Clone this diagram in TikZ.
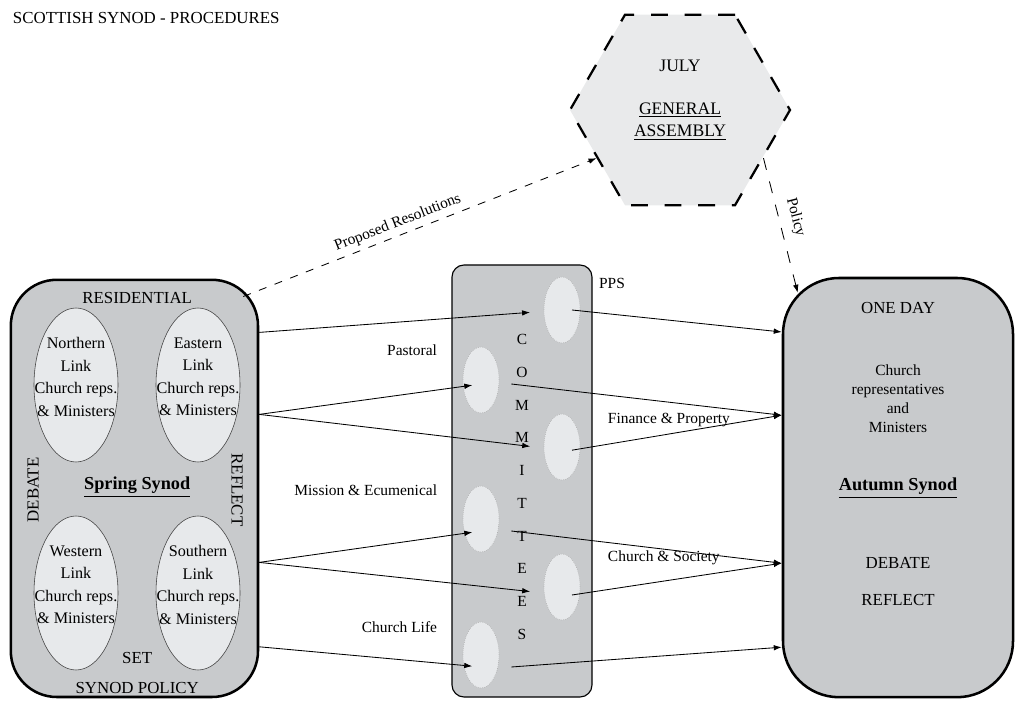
\documentclass[tikz,border=0pt]{standalone}
\usepackage{fontspec}
\setmainfont{Liberation Serif}
\usetikzlibrary{shapes.geometric,arrows.meta}
\definecolor{synodgray}{RGB}{200,202,204}
\definecolor{linkfill}{RGB}{231,233,235}
\definecolor{gafill}{RGB}{233,234,235}
\begin{document}
\begin{tikzpicture}[font=\fontsize{11}{13.5}\selectfont, >={Latex[length=2mm,width=1.4mm]},
    synod/.style={draw, line width=1.8pt, fill=synodgray},
    link/.style={ellipse, draw=black!75, fill=linkfill, inner sep=0pt, minimum width=2.1cm, minimum height=3.85cm},
    linktext/.style={align=center, font=\fontsize{11.5}{16}\selectfont},
    comm/.style={ellipse, draw=black!35, densely dotted, fill=linkfill, minimum width=0.9cm, minimum height=1.65cm},
    caps/.style={font=\fontsize{12}{14}\selectfont},
    synodname/.style={font=\bfseries\fontsize{13}{15}\selectfont},
    flow/.style={->, line width=0.6pt},
    proposal/.style={->, line width=0.6pt, dash pattern=on 0.2cm off 0.22cm}]
    \useasboundingbox (0,0) rectangle (25.5,17.5);
    \node [anchor=west, font=\fontsize{12}{14}\selectfont] (title) at (0.2,17.05) {SCOTTISH SYNOD - PROCEDURES};

    \node [synod, rounded corners=1.15cm, minimum width=6.18cm, minimum height=10.43cm] (spring) at (3.36,5.29) {};
    \node [caps] (resid) at (3.43,10.05) {RESIDENTIAL};
    \node [link] (north) at (1.9,7.875) {};
    \node [link] (east) at (4.95,7.875) {};
    \node [link] (west) at (1.9,2.675) {};
    \node [link] (south) at (4.95,2.675) {};
    \node [linktext] (northtxt) at ([yshift=0.2cm]north) {Northern\\Link\\Church reps.\\\& Ministers};
    \node [linktext] (easttxt) at ([yshift=0.2cm]east) {Eastern\\Link\\Church reps.\\\& Ministers};
    \node [linktext] (westtxt) at ([yshift=0.2cm]west) {Western\\Link\\Church reps.\\\& Ministers};
    \node [linktext] (southtxt) at ([yshift=0.2cm]south) {Southern\\Link\\Church reps.\\\& Ministers};
    \node [caps, rotate=90] (sdebate) at (0.825,5.25) {DEBATE};
    \node [caps, rotate=-90] (sreflect) at (5.925,5.25) {REFLECT};
    \node [synodname] (springname) at (3.43,5.325) {\underline{Spring Synod}};
    \node [caps] (set) at (3.43,1.05) {SET};
    \node [caps] (setpolicy) at (3.43,0.3) {SYNOD POLICY};

    \node [draw, line width=0.8pt, fill=synodgray, rounded corners=0.3cm, minimum width=3.5cm, minimum height=10.8cm] (commbox) at (13.05,5.475) {};
    \node [comm] (pps) at (14.05,9.75) {};
    \node [comm] (past) at (12.025,8.0) {};
    \node [comm] (fin) at (14.05,6.325) {};
    \node [comm] (miss) at (12.025,4.525) {};
    \node [comm] (soc) at (14.05,2.825) {};
    \node [comm] (life) at (12.025,1.125) {};
    \node [align=center, font=\fontsize{11}{23.3}\selectfont] (letters) at (13.05,5.325) {C\\O\\M\\M\\I\\T\\T\\E\\E\\S};
    \node (ppslbl) at (15.3,10.425) {PPS};
    \node [anchor=east] (pastlbl) at (11.05,8.75) {Pastoral};
    \node [anchor=west] (finlbl) at (15.075,7.0) {Finance \& Property};
    \node [anchor=east] (misslbl) at (11.05,5.25) {Mission \& Ecumenical};
    \node [anchor=west] (soclbl) at (15.075,3.55) {Church \& Society};
    \node [anchor=east] (lifelbl) at (11.05,1.825) {Church Life};

    \node [synod, rounded corners=1.4cm, minimum width=5.75cm, minimum height=10.48cm] (autumn) at (22.45,5.31) {};
    \node [caps] (oneday) at (22.45,9.8) {ONE DAY};
    \node [align=center] (members) at (22.45,7.525) {Church\\representatives\\and\\Ministers};
    \node [synodname] (autumnname) at (22.45,5.3) {\underline{Autumn Synod}};
    \node [caps] (adebate) at (22.45,3.425) {DEBATE};
    \node [caps] (areflect) at (22.45,2.5) {REFLECT};

    \node [regular polygon, regular polygon sides=6, minimum size=5.5cm, draw, line width=1.6pt, dash pattern=on 0.42cm off 0.42cm, fill=gafill] (ga) at (17,14.75) {};
    \node [align=center, font=\fontsize{12.5}{16}\selectfont] (gatext) at (17,15.0) {JULY\\[0.5cm]\underline{GENERAL}\\\underline{ASSEMBLY}};

    \draw [proposal] ([shift={(-0.4,-0.45)}]spring.north east) -- (ga.210) node [sloped, above, pos=0.45] (proplbl) {Proposed Resolutions};
    \draw [->, line width=0.6pt, dash pattern=on 0.3cm off 0.3cm] (ga.-30) -- ([shift={(0.4,-0.4)}]autumn.north west) node [sloped, above=3pt, pos=0.47] (policylbl) {Policy};

    \draw [flow, shorten >=0.8cm] ([yshift=3.9cm]spring.east) -- (pps.center);
    \draw [flow, shorten >=0.22cm] ([yshift=1.85cm]spring.east) -- ([yshift=-0.1cm]past.center);
    \draw [flow, shorten >=0.8cm] ([yshift=1.85cm]spring.east) -- ([yshift=-0.08cm]fin.center);
    \draw [flow, shorten >=0.22cm] ([yshift=-1.85cm]spring.east) -- ([yshift=-0.3cm]miss.center);
    \draw [flow, shorten >=0.8cm] ([yshift=-1.85cm]spring.east) -- ([yshift=-0.2cm]soc.center);
    \draw [flow, shorten >=0.22cm] ([yshift=-3.96cm]spring.east) -- ([yshift=-0.3cm]life.center);

    \draw [flow] ([xshift=0.25cm]pps.center) -- ([yshift=3.89cm]autumn.west);
    \draw [flow] ([xshift=0.3cm, yshift=-0.1cm]past.east) -- ([yshift=1.81cm]autumn.west);
    \draw [flow] ([xshift=0.25cm, yshift=-0.08cm]fin.center) -- ([yshift=1.81cm]autumn.west);
    \draw [flow] ([xshift=0.3cm, yshift=-0.3cm]miss.east) -- ([yshift=-1.89cm]autumn.west);
    \draw [flow] ([xshift=0.25cm, yshift=-0.2cm]soc.center) -- ([yshift=-1.89cm]autumn.west);
    \draw [flow] ([xshift=0.3cm, yshift=-0.3cm]life.east) -- ([yshift=-3.99cm]autumn.west);
\end{tikzpicture}
\end{document}
